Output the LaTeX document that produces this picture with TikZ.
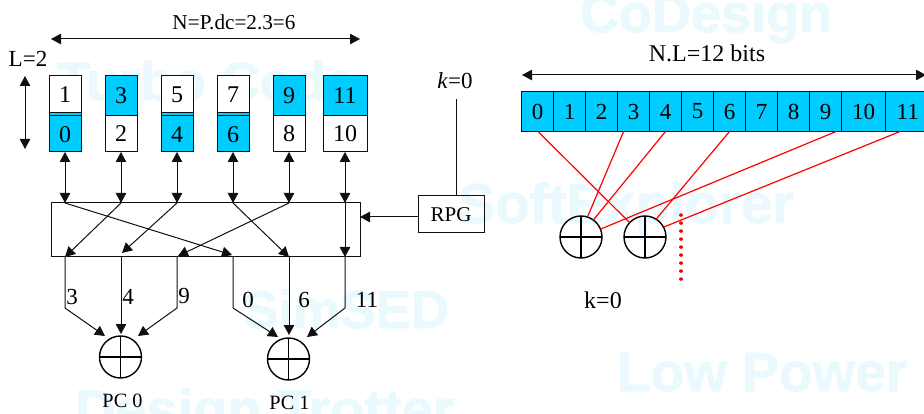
\documentclass[tikz,border=0pt]{standalone}
\usepackage{fontspec}
\setmainfont{Liberation Serif}
\newfontfamily\wmfont[BoldFeatures={FakeBold=1.5}]{Liberation Sans}
\usetikzlibrary{arrows.meta}
\definecolor{cellblue}{HTML}{00CCFF}
\definecolor{wmblue}{HTML}{E9F9FE}
\definecolor{ink}{HTML}{101010}
\newcommand{\fsz}[1]{\fontsize{#1}{#1}\selectfont}
\tikzset{
  x=1pt,y=-1pt,
  every node/.style={inner sep=0pt,outer sep=0pt},
  tip/.style={-{Triangle[length=10pt,width=10.5pt]}},
  dbl/.style={{Triangle[length=10pt,width=10.5pt]}-{Triangle[length=10pt,width=10.5pt]}},
  wire/.style={draw=ink,line width=1pt},
  wm/.style={anchor=base west,text=wmblue,font=\wmfont\bfseries\fsz{#1}},
  txt/.style={text=black,font=\fsz{#1}},
  whitecell/.style={draw=ink,line width=1pt,fill=white,minimum width=32pt,minimum height=#1,font=\fsz{24}},
  bluecell/.style={draw=ink,line width=1pt,fill=cellblue,minimum width=32pt,minimum height=#1,font=\fsz{24}},
  barcell/.style={draw=ink,line width=1pt,fill=cellblue,minimum height=39.5pt,minimum width=#1,font=\fsz{23}},
  xorgate/.style={draw=black,line width=1.4pt,circle,minimum size=42pt,fill=none},
  redline/.style={draw=red,line width=1.2pt},
}
\newcommand{\xorcross}[1]{\draw[black,line width=1.3pt] (#1.north)--(#1.south) (#1.west)--(#1.east);}
\begin{document}
\begin{tikzpicture}
\useasboundingbox (0,0) rectangle (924,414);
\clip (0,0) rectangle (924,414);
% watermark
\node[wm=54] (wa) at (580,32) {CoDesign};
\node[wm=54] (wb) at (57,100) {Turbo Code};
\node[wm=56] (wc) at (458,223) {SoftExplorer};
\node[wm=53] (wd) at (243,328) {SimSED};
\node[wm=55] (we) at (617,391) {Low Power};
\node[wm=56] (wf) at (75,429) {Design Trotter};
% titles
\node[txt=21.2] (tn) at (234,22) {N=P.dc=2.3=6};
\node[txt=23] (tl) at (28,59) {L=2};
\coordinate (an1) at (51,39);
\coordinate (an2) at (360,39);
\draw[wire,dbl] (an1) -- (an2);
\coordinate (al1) at (25,76);
\coordinate (al2) at (25,149);
\draw[wire,dbl] (al1) -- (al2);
% memory columns
\node[whitecell=37pt] (u1) at (65,94.5) {1};
\node[bluecell=39pt] (l0) at (65,132.5) {};
\node[font=\fsz{24}] (l0t) at (65,134.5) {0};
\draw[wire] (l0.west |- 0,116) -- (l0.east |- 0,116);
\node[bluecell=40pt] (u3) at (121,96) {3};
\node[whitecell=36pt] (l2) at (121,134) {2};
\node[whitecell=37pt] (u5) at (177,94.5) {5};
\node[bluecell=39pt] (l4) at (177,132.5) {};
\node[font=\fsz{24}] (l4t) at (177,134.5) {4};
\draw[wire] (l4.west |- 0,116) -- (l4.east |- 0,116);
\node[whitecell=37pt] (u7) at (233,94.5) {7};
\node[bluecell=39pt] (l6) at (233,132.5) {};
\node[font=\fsz{24}] (l6t) at (233,134.5) {6};
\draw[wire] (l6.west |- 0,116) -- (l6.east |- 0,116);
\node[bluecell=40pt] (u9) at (289,96) {9};
\node[whitecell=36pt] (l8) at (289,134) {8};
\node[bluecell=40pt,minimum width=44pt] (u11) at (345,96) {11};
\node[whitecell=36pt,minimum width=44pt] (l10) at (345,134) {10};
% permutation box
\node[draw=ink,line width=1pt,minimum width=309pt,minimum height=54pt] (perm) at (205.5,230) {};
\foreach \n/\xx in {a/65,b/121,c/177,d/233,e/289,f/345}{
  \coordinate (pt\n) at (\xx,203);
  \coordinate (pb\n) at (\xx,257);
  \coordinate (pk\n) at (\xx,308);
}
\draw[wire,dbl] (l0.south) -- (pta);
\draw[wire,dbl] (l2.south) -- (ptb);
\draw[wire,dbl] (l4.south) -- (ptc);
\draw[wire,dbl] (l6.south) -- (ptd);
\draw[wire,dbl] (l8.south) -- (pte);
\draw[wire,dbl] (l10.south) -- (ptf);
\draw[wire,tip] (pta) -- (232,255);
\draw[wire,tip] (ptb) -- (pba);
\draw[wire,tip] (ptc) -- (122,253);
\draw[wire,tip] (ptd) -- (pbe);
\draw[wire,tip] (pte) -- (178,256);
\draw[wire,tip] (ptf) -- (pbf);
% xor gates
\node[xorgate] (c0) at (120.5,357) {}; \xorcross{c0}
\node[xorgate] (c1) at (288.5,359) {}; \xorcross{c1}
\coordinate (i01) at (105,336);
\coordinate (i02) at (121,334);
\coordinate (i03) at (138,336);
\coordinate (i11) at (278,337);
\coordinate (i12) at (289,335);
\coordinate (i13) at (307,337);
\draw[wire,tip] (pba) -- (pka) -- (i01);
\draw[wire,tip] (pbb) -- (i02);
\draw[wire,tip] (pbc) -- (pkc) -- (i03);
\draw[wire,tip] (pbd) -- (pkd) -- (i11);
\draw[wire,tip] (pbe) -- (i12);
\draw[wire,tip] (pbf) -- (pkf) -- (i13);
\node[txt=23] (n3) at (72,297) {3};
\node[txt=23] (n4) at (128,297) {4};
\node[txt=23] (n9) at (184,296) {9};
\node[txt=23] (n0) at (248,300) {0};
\node[txt=23] (n6) at (304,300) {6};
\node[txt=23] (n11) at (367,300) {11};
\node[txt=20.3] (pc0) at (122.5,400.5) {PC 0};
\node[txt=20.3] (pc1) at (289.5,403) {PC 1};
% RPG
\node[draw=ink,line width=1pt,minimum width=66pt,minimum height=37pt,font=\fsz{21}] (rpg) at (451,214.5) {RPG};
\node[txt=23] (kk) at (455,81) {\textit{k}=0};
\coordinate (kb) at (456.5,99);
\draw[wire] (kb) -- (kb |- rpg.north);
\draw[wire,tip] (rpg.west |- 0,217) -- (perm.east |- 0,217);
% right part
\node[txt=24] (tb) at (707,53) {N.L=12 bits};
\coordinate (ab1) at (522,75);
\coordinate (ab2) at (926,75);
\draw[wire,dbl] (ab1) -- (ab2);
\foreach \i/\xx in {0/537.7,1/569.7,2/601.7,3/633.7,4/665.7,5/697.7,6/729.7,7/761.7,8/793.7,9/825.7}{
  \node[barcell=32pt] (r\i) at (\xx,111.5) {\i};
}
\node[barcell=44pt] (r10) at (863.7,111.5) {10};
\node[barcell=44pt] (r11) at (907.7,111.5) {11};
\node[xorgate] (x1) at (581,237) {}; \xorcross{x1}
\node[xorgate] (x2) at (645,237) {}; \xorcross{x2}
\draw[redline] (r0.south) -- (x2.137);
\draw[redline] ([xshift=-10pt]r3.south) -- (x1.72);
\draw[redline] (r4.south) -- (x1.54);
\draw[redline] (r6.south) -- (x2.58);
\draw[redline] ([xshift=11pt]r9.south) -- (x1.22);
\draw[redline] ([xshift=-7pt]r11.south) -- (x2.28);
\coordinate (d1) at (681,215);
\coordinate (d2) at (681,281);
\draw[red,line width=3.4pt,line cap=round,dash pattern=on 0.1pt off 7.9pt] (d1) -- (d2);
\node[txt=24] (k0) at (603,300) {k=0};
\end{tikzpicture}
\end{document}
